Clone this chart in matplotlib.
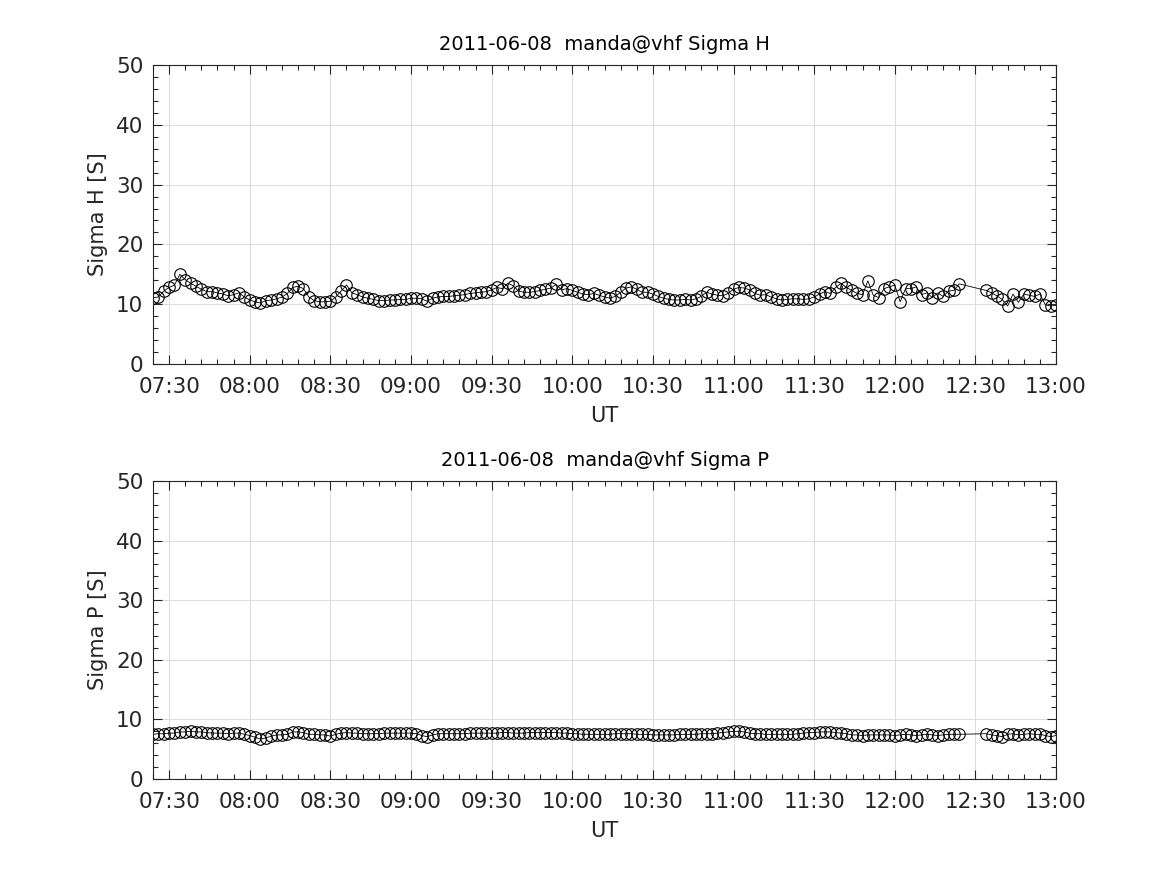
# -*- coding: utf-8 -*-
"""Sigma H / Sigma P time series, 2011-06-08 (MATLAB-like look)."""

import pandas as pd
import matplotlib
matplotlib.use("Agg")
import matplotlib.pyplot as plt
import matplotlib.dates as mdates
from matplotlib.ticker import MultipleLocator

# sample times: 2-min steps, with a data gap between 12:24 and 12:34
times_a = pd.date_range("2011-06-08 07:24", "2011-06-08 12:24", freq="2min")
times_b = pd.date_range("2011-06-08 12:34", "2011-06-08 13:00", freq="2min")
times = times_a.append(times_b)

sigma_h = [
    11.1, 11.2, 12.2, 12.8, 13.2, 15.0, 14.1, 13.5, 13.0, 12.5,
    12.1, 12.1, 11.9, 11.7, 11.4, 11.6, 11.9, 11.2, 10.7, 10.4,
    10.2, 10.6, 10.7, 10.9, 11.2, 11.8, 12.8, 13.0, 12.6, 11.2,
    10.6, 10.4, 10.4, 10.5, 11.2, 12.2, 13.2, 11.9, 11.6, 11.2,
    11.0, 10.8, 10.6, 10.6, 10.7, 10.7, 10.8, 10.8, 11.0, 11.0,
    10.9, 10.5, 11.0, 11.2, 11.3, 11.3, 11.4, 11.5, 11.6, 11.8,
    11.9, 12.0, 12.1, 12.4, 12.8, 12.6, 13.5, 13.1, 12.2, 12.0,
    12.0, 12.1, 12.3, 12.5, 12.7, 13.3, 12.4, 12.6, 12.3, 12.0,
    11.7, 11.6, 11.8, 11.5, 11.2, 11.0, 11.3, 12.0, 12.7, 12.9,
    12.5, 12.0, 12.0, 11.7, 11.3, 11.0, 10.8, 10.7, 10.7, 10.8,
    10.7, 10.9, 11.3, 12.0, 11.7, 11.5, 11.4, 11.8, 12.5, 12.8,
    12.7, 12.4, 11.8, 11.5, 11.6, 11.2, 10.9, 10.7, 10.8, 10.9,
    10.9, 10.8, 10.9, 11.2, 11.7, 12.1, 11.8, 12.8, 13.5, 12.8,
    12.3, 11.8, 11.6, 13.9, 11.5, 11.1, 12.6, 12.9, 13.2, 10.4,
    12.6, 12.6, 12.9, 11.6, 11.9, 11.1, 11.9, 11.3, 12.2, 12.3,
    13.4,
    # after the gap
    12.3, 11.9, 11.4, 10.8, 9.7, 11.7, 10.3, 11.7, 11.5, 11.3,
    11.7, 9.9, 9.7, 9.8,
]

sigma_p = [
    7.5, 7.6, 7.6, 7.7, 7.7, 7.9, 7.9, 8.0, 7.9, 7.9,
    7.8, 7.7, 7.7, 7.7, 7.6, 7.7, 7.7, 7.5, 7.3, 7.0,
    6.7, 6.9, 7.2, 7.4, 7.4, 7.5, 7.9, 7.9, 7.8, 7.5,
    7.5, 7.4, 7.4, 7.2, 7.5, 7.7, 7.8, 7.7, 7.7, 7.6,
    7.6, 7.6, 7.6, 7.7, 7.7, 7.7, 7.7, 7.7, 7.7, 7.6,
    7.3, 7.1, 7.4, 7.6, 7.6, 7.6, 7.6, 7.6, 7.6, 7.7,
    7.7, 7.7, 7.7, 7.7, 7.7, 7.8, 7.8, 7.7, 7.7, 7.7,
    7.8, 7.8, 7.8, 7.8, 7.8, 7.8, 7.7, 7.7, 7.6, 7.6,
    7.5, 7.5, 7.5, 7.5, 7.5, 7.5, 7.6, 7.6, 7.6, 7.6,
    7.5, 7.5, 7.5, 7.4, 7.4, 7.4, 7.4, 7.4, 7.5, 7.5,
    7.5, 7.5, 7.6, 7.6, 7.6, 7.7, 7.8, 7.9, 8.0, 8.0,
    7.9, 7.7, 7.6, 7.6, 7.5, 7.5, 7.5, 7.5, 7.5, 7.5,
    7.6, 7.7, 7.8, 7.8, 7.9, 7.9, 7.9, 7.8, 7.7, 7.6,
    7.4, 7.4, 7.3, 7.4, 7.4, 7.4, 7.4, 7.4, 7.3, 7.4,
    7.5, 7.4, 7.3, 7.4, 7.5, 7.4, 7.3, 7.4, 7.5, 7.5,
    7.5,
    # after the gap
    7.6, 7.4, 7.3, 7.1, 7.5, 7.6, 7.4, 7.5, 7.6, 7.5,
    7.5, 7.3, 7.1, 7.3,
]

panels = [
    ("2011-06-08  manda@vhf Sigma H", "Sigma H [S]", sigma_h),
    ("2011-06-08  manda@vhf Sigma P", "Sigma P [S]", sigma_p),
]

text_col = "#262626"
plt.rcParams["font.family"] = ["DejaVu Sans"]

fig = plt.figure(figsize=(11.67, 8.75), dpi=100)
rects = [[0.1311, 0.5840, 0.7738, 0.3417],
         [0.1311, 0.1097, 0.7738, 0.3406]]

for rect, (title, ylabel, vals) in zip(rects, panels):
    ax = fig.add_axes(rect)
    ax.plot(times, vals, color="black", lw=0.6, marker="o", ms=8.3,
            mfc="none", mec="black", mew=0.8)

    ax.set_xlim(pd.Timestamp("2011-06-08 07:24"), pd.Timestamp("2011-06-08 13:00"))
    ax.set_ylim(0, 50)
    ax.xaxis.set_major_locator(mdates.MinuteLocator(byminute=[0, 30]))
    ax.xaxis.set_minor_locator(mdates.MinuteLocator(byminute=range(0, 60, 6)))
    ax.xaxis.set_major_formatter(mdates.DateFormatter("%H:%M"))
    ax.yaxis.set_major_locator(MultipleLocator(10))
    ax.yaxis.set_minor_locator(MultipleLocator(2))

    ax.grid(True, which="major", color="#dedede", lw=0.8)
    ax.set_axisbelow(True)
    ax.tick_params(which="both", direction="in", top=True, right=True,
                   colors=text_col, labelsize=15.5, width=0.8)
    ax.tick_params(which="major", length=6.7, pad=7)
    ax.tick_params(which="minor", length=3.6)
    ax.tick_params(axis="x", which="major", pad=9)
    for sp in ax.spines.values():
        sp.set_color(text_col)
        sp.set_linewidth(0.8)

    ax.set_title(title, fontsize=14, color="black", pad=10.5)
    ax.set_xlabel("UT", fontsize=15, color=text_col, labelpad=7)
    ax.set_ylabel(ylabel, fontsize=15, color=text_col, labelpad=6)

fig.savefig("out.png", dpi=100)
plt.close(fig)
